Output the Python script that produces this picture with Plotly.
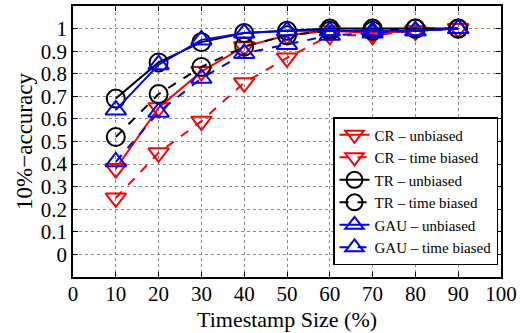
import plotly.graph_objects as go

x = [10, 20, 30, 40, 50, 60, 70, 80, 90]
cr_unbiased = [0.38, 0.65, 0.81, 0.92, 0.97, 0.99, 0.98, 0.99, 1.0]
cr_biased = [0.25, 0.45, 0.59, 0.76, 0.87, 0.97, 0.97, 0.99, 1.0]
tr_unbiased = [0.69, 0.85, 0.94, 0.98, 0.99, 1.0, 1.0, 1.0, 1.0]
tr_biased = [0.52, 0.71, 0.83, 0.92, 0.97, 0.99, 0.99, 1.0, 1.0]
gau_unbiased = [0.64, 0.84, 0.95, 0.98, 0.99, 0.99, 0.99, 0.99, 1.0]
gau_biased = [0.41, 0.63, 0.78, 0.89, 0.93, 0.97, 0.98, 0.99, 1.0]

series = [
    ("CR \u2013 unbiased", cr_unbiased, "red", "solid", "triangle-down-open"),
    ("CR \u2013 time biased", cr_biased, "red", "dash", "triangle-down-open"),
    ("TR \u2013 unbiased", tr_unbiased, "black", "solid", "circle-open"),
    ("TR \u2013 time biased", tr_biased, "black", "dash", "circle-open"),
    ("GAU \u2013 unbiased", gau_unbiased, "blue", "solid", "triangle-up-open"),
    ("GAU \u2013 time biased", gau_biased, "blue", "dash", "triangle-up-open"),
]

fig = go.Figure()
for name, ys, col, dash, sym in series:
    fig.add_trace(go.Scatter(
        x=x, y=ys, name=name, mode="lines+markers",
        line=dict(color=col, width=2, dash=dash),
        marker=dict(symbol=sym, size=18, color=col, line=dict(color=col, width=2)),
    ))

font = "Liberation Serif, Times New Roman, serif"
fig.update_layout(
    width=527, height=333,
    margin=dict(l=73, r=26, t=4, b=56),
    paper_bgcolor="white", plot_bgcolor="white",
    font=dict(family=font, size=21, color="black"),
    showlegend=True,
    legend=dict(
        x=0.993, y=0.044, xanchor="right", yanchor="bottom",
        bgcolor="white", bordercolor="black", borderwidth=1.5,
        font=dict(family=font, size=15), tracegroupgap=0,
        itemwidth=30,
    ),
    xaxis=dict(
        range=[0, 100], tickvals=list(range(0, 101, 10)),
        showgrid=True, gridcolor="#888", griddash="dot", gridwidth=1,
        showline=True, linecolor="black", linewidth=1.5, mirror="ticks",
        ticks="inside", ticklen=5, tickcolor="black",
        ticklabelstandoff=-3,
        zeroline=False,
    ),
    yaxis=dict(
        range=[-0.1, 1.1], tickvals=[i / 10 for i in range(0, 11)],
        ticktext=["0"] + ["%.1f" % (i / 10) for i in range(1, 10)] + ["1"],
        showgrid=True, gridcolor="#888", griddash="dot", gridwidth=1,
        showline=True, linecolor="black", linewidth=1.5, mirror="ticks",
        ticks="inside", ticklen=5, tickcolor="black",
        zeroline=False,
        title=dict(text="10%\u2212accuracy", standoff=2, font=dict(size=23)),
    ),
    annotations=[dict(
        text="Timestamp Size (%)", xref="paper", yref="paper",
        x=0.5, y=-0.155, xanchor="center", yanchor="middle", showarrow=False,
        font=dict(family=font, size=22),
    )],
)
fig.write_html("out.html")
